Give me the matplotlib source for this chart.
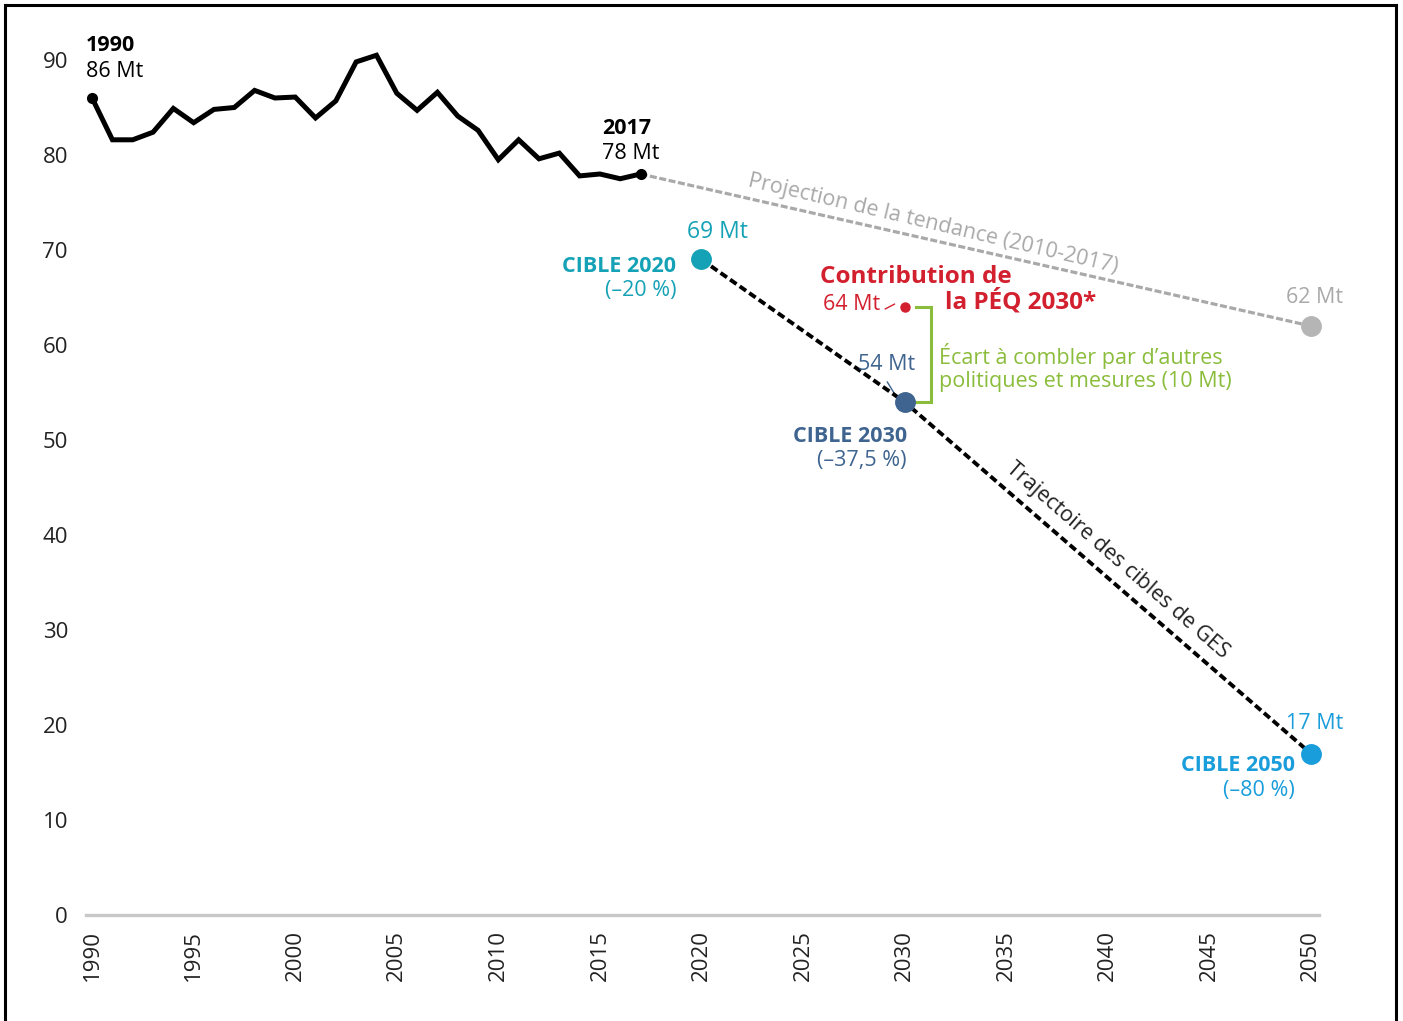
import matplotlib.pyplot as plt
from matplotlib.lines import Line2D

plt.rcParams['font.family'] = ['Open Sans', 'DejaVu Sans']

# Émissions historiques (Mt éq. CO2)
years = list(range(1990, 2018))
emissions = [86, 81.6, 81.6, 82.4, 84.9, 83.4, 84.8, 85.0, 86.8, 86.0,
             86.1, 83.9, 85.7, 89.8, 90.5, 86.5, 84.7, 86.6, 84.1, 82.6,
             79.5, 81.6, 79.6, 80.2, 77.8, 78.0, 77.5, 78]

# Projection de la tendance 2010-2017
proj_years = [2017, 2050]
proj_values = [78, 62]

# Cibles
target_years = [2020, 2030, 2050]
target_values = [69, 54, 17]
target_names = ['CIBLE 2020', 'CIBLE 2030', 'CIBLE 2050']
target_pct = ['(–20 %)', '(–37,5 %)', '(–80 %)']

# Contribution du plan (PÉQ 2030)
peq_year = 2030
peq_value = 64

xticks = list(range(1990, 2051, 5))
yticks = list(range(0, 91, 10))

TEAL = '#16a2b6'
SLATE = '#3e648f'
BLUE = '#1a9ddb'
RED = '#d3202f'
GREEN = '#8bbd3c'
GREY = '#a9a9a9'

fig = plt.figure(figsize=(14.03, 10.21), dpi=100)
ax = fig.add_axes([86 / 1403, 106 / 1021, 1233 / 1403, 902.5 / 1021])
ax.set_xlim(1989.7, 2050.4)
ax.set_ylim(0, 95)

# Historique
ax.plot(years, emissions, color='black', lw=3.6, solid_joinstyle='miter', zorder=4)
ax.plot([years[0], years[-1]], [emissions[0], emissions[-1]], 'o', color='black',
        ms=7, zorder=5)

# Projection (gris)
ax.plot(proj_years, proj_values, color=GREY, lw=2.3, ls=(0, (2.2, 0.8)), zorder=3)
ax.plot(proj_years[-1], proj_values[-1], 'o', color='#b5b5b5', ms=14, zorder=5,
        clip_on=False)

# Trajectoire des cibles
ax.plot(target_years, target_values, color='black', lw=2.8, ls=(0, (2.0, 1.0)), zorder=3)
for yr, val, col in zip(target_years, target_values, [TEAL, SLATE, BLUE]):
    ax.plot(yr, val, 'o', color=col, ms=14, zorder=6, clip_on=False)

# Contribution PÉQ
ax.plot(peq_year, peq_value, 'o', color=RED, ms=6.5, zorder=6)

# Accolade de l'écart
bx, bl = 2031.3, 2030.55
ax.plot([bl, bx, bx, bl], [peq_value, peq_value, target_values[1], target_values[1]],
        color=GREEN, lw=2.2, solid_joinstyle='miter', zorder=4)

# Axes
for side in ['top', 'right', 'left']:
    ax.spines[side].set_visible(False)
ax.spines['bottom'].set_color('#c8c8c8')
ax.spines['bottom'].set_linewidth(2.4)
ax.set_xticks(xticks)
ax.set_yticks(yticks)
ax.tick_params(axis='x', length=0, pad=11, labelsize=16, labelrotation=90, colors='#222222')
ax.tick_params(axis='y', length=0, pad=13, labelsize=16, colors='#222222')

fs = 15.5
ax.text(1989.7, 91.5, '1990', fontsize=fs, weight='bold', va='center', ha='left')
ax.text(1989.7, 88.8, f'{emissions[0]} Mt', fontsize=fs, va='center', ha='left')
ax.text(2015.1, 82.8, '2017', fontsize=fs, weight='bold', va='center', ha='left')
ax.text(2015.1, 80.2, f'{emissions[-1]} Mt', fontsize=fs, va='center', ha='left')

ax.text(proj_years[-1] + 0.2, proj_values[-1] + 3.0, f'{proj_values[-1]} Mt',
        fontsize=fs, color=GREY, ha='center', va='center')
ax.text(2031.4, 72.7, 'Projection de la tendance (2010-2017)', fontsize=fs, color=GREY,
        rotation=-13.2, ha='center', va='center', rotation_mode='anchor')

# Étiquettes des cibles
ax.text(2020.8, target_values[0] + 2.9, f'{target_values[0]} Mt', fontsize=16.5,
        color=TEAL, ha='center', va='center')
ax.text(2018.75, 68.3, target_names[0], fontsize=fs, weight='bold', color=TEAL,
        ha='right', va='center')
ax.text(2018.75, 65.7, target_pct[0], fontsize=fs, color=TEAL, ha='right', va='center')

ax.text(2029.1, 57.9, f'{target_values[1]} Mt', fontsize=fs, color=SLATE,
        ha='center', va='center')
ax.plot([2029.15, 2029.55], [56.1, 54.7], color=SLATE, lw=1)
ax.text(2030.1, 50.4, target_names[1], fontsize=fs, weight='bold', color=SLATE,
        ha='right', va='center')
ax.text(2030.1, 47.8, target_pct[1], fontsize=fs, color=SLATE, ha='right', va='center')

ax.text(proj_years[-1] + 0.2, target_values[2] + 3.2, f'{target_values[2]} Mt',
        fontsize=fs, color=BLUE, ha='center', va='center')
ax.text(2049.2, 15.7, target_names[2], fontsize=fs, weight='bold', color=BLUE,
        ha='right', va='center')
ax.text(2049.2, 13.1, target_pct[2], fontsize=fs, color=BLUE, ha='right', va='center')

ax.text(2040.5, 37.3, 'Trajectoire des cibles de GES', fontsize=fs, color='#222222',
        rotation=-41, ha='center', va='center', rotation_mode='anchor')

# Contribution PÉQ 2030
ax.text(2025.85, 67.2, 'Contribution de', fontsize=17.5, weight='bold', color=RED,
        ha='left', va='center')
ax.text(2032.0, 64.5, 'la PÉQ 2030*', fontsize=17.5, weight='bold', color=RED,
        ha='left', va='center')
ax.text(2028.8, 64.3, f'{peq_value} Mt', fontsize=fs, color=RED, ha='right', va='center')
ax.plot([2029.05, 2029.5], [63.8, 64.3], color=RED, lw=1)

ax.text(2031.7, 58.8, 'Écart à combler par d’autres', fontsize=fs, color=GREEN,
        ha='left', va='center')
ax.text(2031.7, 56.2, 'politiques et mesures (10 Mt)', fontsize=fs, color=GREEN,
        ha='left', va='center')

# Cadre noir
for xs, ys in [([5, 5], [-5, 1016]), ([5, 1396], [1016, 1016]), ([1396, 1396], [1016, -5])]:
    fig.add_artist(Line2D([x / 1403 for x in xs], [y / 1021 for y in ys],
                          transform=fig.transFigure, color='black', lw=2.2))

fig.savefig('out.png', dpi=100)
